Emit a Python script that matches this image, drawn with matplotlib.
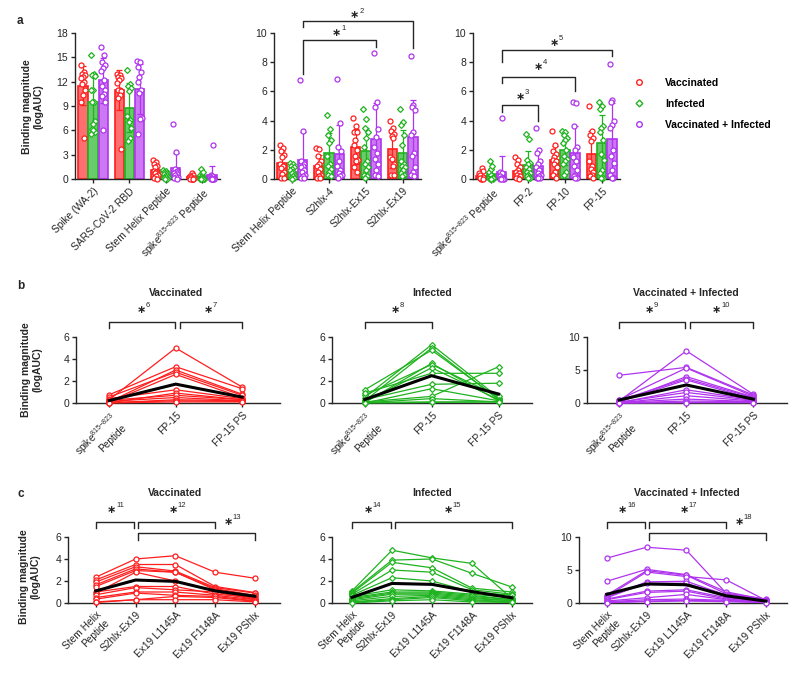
import numpy as np
import matplotlib
matplotlib.use('Agg')
import matplotlib.pyplot as plt
from matplotlib.lines import Line2D
from matplotlib.transforms import blended_transform_factory

plt.rcParams['font.family'] = ['Liberation Sans', 'DejaVu Sans']
plt.rcParams['mathtext.fontset'] = 'custom'
plt.rcParams['mathtext.rm'] = 'Liberation Sans'

# ---- data (logAUC), one value per subject ----
groups = ['Vaccinated', 'Infected', 'Vaccinated + Infected']

# panel a, antigens only used there
spike_wa2 = [[14.1, 13.2, 13.0, 12.8, 12.6, 12.5, 11.9, 11.7, 11.0, 10.4, 9.5, 5.0],
             [15.3, 13.0, 12.8, 12.7, 11.0, 11.0, 9.5, 9.5, 7.2, 6.8, 6.2, 5.8, 6.0, 5.6],
             [16.3, 15.3, 14.4, 14.0, 13.7, 13.3, 12.2, 11.5, 11.0, 10.5, 10.2, 9.5, 6.1]]
rbd = [[13.0, 12.8, 12.6, 12.5, 12.2, 11.8, 11.0, 11.0, 10.8, 10.4, 10.0, 3.7],
       [13.4, 11.7, 11.5, 11.2, 10.8, 7.8, 7.3, 7.0, 6.3, 5.0, 4.7],
       [14.5, 14.4, 13.8, 13.2, 12.6, 12.0, 11.0, 10.6, 7.5, 7.4, 5.6]]
s2hlx_4 = [[2.1, 2.05, 1.6, 1.2, 1.0, 0.9, 0.7, 0.5, 0.3, 0.2, 0.1, 0.05],
           [4.4, 3.4, 3.0, 2.7, 2.5, 1.6, 1.0, 0.9, 0.7, 0.5, 0.3, 0.2],
           [6.85, 3.85, 2.2, 1.9, 1.2, 0.9, 0.6, 0.4, 0.3, 0.2, 0.1]]
s2hlx_ex15 = [[4.2, 3.6, 3.2, 3.2, 2.7, 2.3, 2.0, 1.6, 1.3, 1.2, 0.8, 0.5],
              [4.8, 4.1, 3.5, 3.2, 2.8, 2.2, 1.2, 1.0, 0.8, 0.6, 0.3, 0.2, 0.1],
              [8.6, 5.3, 4.9, 3.4, 2.9, 2.2, 1.8, 1.4, 1.0, 0.6, 0.3, 0.2]]
fp2 = [[1.5, 1.3, 1.0, 0.8, 0.6, 0.5, 0.4, 0.3, 0.2, 0.1, 0.05, 0.0],
       [3.1, 2.75, 1.3, 1.1, 1.0, 0.8, 0.7, 0.5, 0.4, 0.3, 0.2, 0.1, 0.05],
       [3.5, 2.0, 1.8, 1.2, 1.0, 0.8, 0.6, 0.4, 0.3, 0.2, 0.1, 0.05, 0.05]]
fp10 = [[3.3, 2.3, 1.9, 1.7, 1.5, 1.3, 1.2, 1.0, 0.8, 0.5, 0.3, 0.1],
        [3.3, 3.2, 3.0, 2.8, 2.7, 2.5, 2.0, 1.6, 1.4, 1.2, 1.0, 0.5, 0.3],
        [5.3, 5.2, 3.6, 2.2, 2.0, 1.5, 1.2, 0.9, 0.6, 0.3, 0.2, 0.1, 0.05]]

# panel b, paired: spike 815-823 peptide, FP-15, FP-15 PS
pep815 = [[0.3, 0.75, 0.1, 0.55, 0.05, 0.4, 0.02, 0.25, 0.15, 0.0, 0.05, 0.01],
          [0.5, 0.2, 1.2, 0.05, 0.7, 0.1, 0.9, 0.3, 0.0, 0.1, 0.02, 0.05, 0.0],
          [0.3, 4.2, 0.5, 0.1, 0.4, 0.2, 0.05, 0.1, 0.0, 0.05, 0.0, 0.0, 0.02]]
fp15 = [[5.0, 3.3, 3.0, 2.8, 2.6, 1.2, 0.9, 0.7, 0.5, 0.3, 0.2, 0.1],
        [5.3, 5.0, 4.8, 3.6, 3.5, 3.2, 2.7, 1.7, 1.3, 0.6, 0.4, 0.1, 0.05],
        [7.9, 5.4, 5.3, 4.0, 3.7, 3.5, 2.0, 1.6, 1.1, 0.6, 0.3, 0.1, 0.05]]
fp15_ps = [[1.45, 1.3, 0.8, 0.7, 0.5, 0.4, 0.3, 0.3, 0.2, 0.2, 0.15, 0.1],
           [0.5, 0.3, 0.4, 0.2, 0.6, 0.3, 2.7, 1.8, 0.2, 3.3, 0.1, 0.1, 0.1],
           [1.3, 1.2, 1.0, 0.9, 0.8, 0.6, 0.5, 0.4, 0.3, 0.2, 0.2, 0.1, 0.05]]

# panel c, paired: stem helix peptide, S2hlx-Ex19 and its mutants
stem_helix = [[2.35, 2.1, 1.9, 1.65, 1.5, 1.0, 0.9, 0.75, 0.5, 0.35, 0.1, 0.05],
              [1.1, 1.0, 0.9, 0.8, 0.7, 0.6, 0.5, 0.4, 0.3, 0.2, 0.1, 0.05, 0.0],
              [6.8, 3.3, 1.2, 1.0, 0.9, 0.8, 0.6, 0.5, 0.3, 0.2, 0.1, 0.05]]
s2hlx_ex19 = [[4.0, 3.5, 3.3, 3.1, 2.95, 1.5, 2.8, 1.4, 1.0, 0.9, 0.3, 0.3],
              [4.8, 3.9, 3.7, 3.0, 2.3, 1.2, 1.0, 0.9, 0.8, 0.6, 0.4, 0.3, 0.2],
              [8.45, 5.1, 4.9, 4.7, 3.2, 3.0, 1.8, 1.6, 0.8, 0.5, 0.3, 0.2]]
ex19_l1145a = [[4.3, 3.5, 2.9, 2.8, 2.8, 1.5, 2.0, 1.2, 1.0, 0.7, 0.6, 0.3],
               [4.1, 4.0, 3.2, 2.8, 2.0, 1.1, 1.0, 0.9, 0.8, 0.7, 0.6, 0.5, 0.3],
               [8.0, 4.3, 4.2, 4.0, 3.3, 3.0, 2.0, 1.8, 1.3, 0.6, 0.4, 0.3]]
ex19_f1148a = [[2.8, 1.5, 1.4, 1.3, 1.2, 0.8, 1.1, 1.0, 0.7, 0.6, 0.5, 0.3],
               [3.6, 2.7, 1.35, 1.2, 1.0, 0.8, 0.7, 0.6, 0.5, 0.4, 0.3, 0.2, 0.1],
               [1.5, 1.7, 1.4, 3.5, 1.2, 1.0, 0.8, 0.6, 0.5, 0.4, 0.3, 0.2]]
ex19_pshlx = [[2.25, 0.95, 0.9, 0.7, 0.6, 0.5, 0.4, 0.3, 0.3, 0.2, 0.15, 0.1],
              [0.4, 1.45, 1.0, 0.8, 0.7, 0.5, 0.3, 0.3, 0.2, 0.2, 0.1, 0.1, 0.05],
              [0.6, 0.5, 0.45, 0.4, 0.35, 0.3, 0.25, 0.2, 0.15, 0.1, 0.1, 0.05]]

pep_lbl = r'spike$^{815\mathrm{-}823}$ Peptide'
a1_labels = ['Spike (WA-2)', 'SARS-CoV-2 RBD', 'Stem Helix Peptide', pep_lbl]
a2_labels = ['Stem Helix Peptide', 'S2hlx-4', 'S2hlx-Ex15', 'S2hlx-Ex19']
a3_labels = [pep_lbl, 'FP-2', 'FP-10', 'FP-15']
b_labels = [r'spike$^{815\mathrm{-}823}$' + '\nPeptide', 'FP-15', 'FP-15 PS']
c_labels = ['Stem Helix\nPeptide', 'S2hlx-Ex19', 'Ex19 L1145A', 'Ex19 F1148A', 'Ex19 PShlx']

colors = ['#FF1E1E', '#1FB31F', '#B034EE']
faces = ['#FF6F6F', '#6ACB6A', '#CB78F2']
markers = ['o', 'D', 'o']
msizes = [3.6, 3.0, 3.6]

W, H = 800, 687
fig = plt.figure(figsize=(8, 6.87), dpi=100)
DARK = '#262626'


def add_ax(x0, x1, ytop, ybot):
    ax = fig.add_axes([x0 / W, 1 - ybot / H, (x1 - x0) / W, (ybot - ytop) / H])
    for s in ['top', 'right']:
        ax.spines[s].set_visible(False)
    for s in ['left', 'bottom']:
        ax.spines[s].set_linewidth(1.0)
        ax.spines[s].set_color(DARK)
    ax.tick_params(length=3, width=1.0, labelsize=7.5, colors=DARK, pad=2)
    return ax


def bar_panel(ax, data, labels, ymax, step):
    offs = [-0.28, 0.0, 0.28]
    for gi, grp in enumerate(data):
        for k, vals in enumerate(grp):
            v = np.asarray(vals)
            x = gi + offs[k]
            m, sd = v.mean(), v.std(ddof=1)
            ax.bar(x, m, width=0.26, color=faces[k], edgecolor=colors[k], lw=1.2, zorder=2)
            ax.errorbar(x, m, yerr=sd, color=colors[k], capsize=2, lw=0.9, capthick=0.9, zorder=3)
            jit = (((np.arange(len(v)) * 0.618) % 1) - 0.5) * 0.13
            ax.plot(x + jit, v, ls='none', marker=markers[k], ms=msizes[k], mfc='white',
                    mec=colors[k], mew=0.9, zorder=4, clip_on=False)
    ax.set_xlim(-0.5, 3.5)
    ax.set_ylim(0, ymax)
    ax.set_yticks(np.arange(0, ymax + 0.1, step))
    ax.set_xticks(range(4))
    ax.set_xticklabels(labels, rotation=45, ha='right', rotation_mode='anchor', fontsize=7.3)


def line_panel(ax, series, k, labels, xlim, ymax, yticks):
    d = np.array(series)
    x = np.arange(d.shape[0])
    for j in range(d.shape[1]):
        ax.plot(x, d[:, j], color=colors[k], lw=0.9, marker=markers[k], ms=msizes[k],
                mfc='white', mec=colors[k], mew=0.9, zorder=3, clip_on=False)
    ax.plot(x, d.mean(axis=1), color='black', lw=2.2, zorder=5, clip_on=False)
    ax.set_xlim(*xlim)
    ax.set_ylim(0, ymax)
    ax.set_yticks(yticks)
    ax.set_xticks(x)
    ax.set_xticklabels(labels, rotation=45, ha='right', rotation_mode='anchor', fontsize=7.3)


def star(ax, x, y, num, tr):
    ax.text(x, y, '\u2217', transform=tr, ha='center', va='center', fontsize=8,
            fontweight='bold', family='DejaVu Sans', color=DARK)
    ax.annotate(str(num), xy=(x, y), xycoords=tr, xytext=(3.2, 3.2), textcoords='offset points',
                fontsize=5.5, ha='left', va='center', color=DARK)


def bracket_data(ax, x1, x2, top, yl, yr):
    ax.plot([x1, x1, x2, x2], [yl, top, top, yr], color=DARK, lw=1.0, clip_on=False, zorder=6)


def bracket_px(ax, x1, x2, ytop, drop):
    tr = blended_transform_factory(ax.transData, fig.transFigure)
    yt, yb = 1 - ytop / H, 1 - (ytop + drop) / H
    ax.plot([x1, x1, x2, x2], [yb, yt, yt, yb], transform=tr, color=DARK, lw=1.0, clip_on=False)
    return tr


def fig_tr(ax):
    return blended_transform_factory(ax.transData, fig.transFigure)


# ---- panel a ----
a1 = add_ax(75, 220, 33, 179)
bar_panel(a1, [spike_wa2, rbd, stem_helix, pep815], a1_labels, 18, 3)
a2 = add_ax(274, 421, 33, 179)
bar_panel(a2, [stem_helix, s2hlx_4, s2hlx_ex15, s2hlx_ex19], a2_labels, 10, 2)
a3 = add_ax(473, 620, 33, 179)
bar_panel(a3, [pep815, fp2, fp10, fp15], a3_labels, 10, 2)

bracket_data(a2, 0.28, 2.28, 9.5, 7.2, 9.05)
bracket_data(a2, 0.28, 3.28, 10.8, 10.4, 8.95)
star(a2, 1.21, 10.0, 1, a2.transData)
star(a2, 1.70, 11.2, 2, a2.transData)
bracket_data(a3, 0.28, 1.28, 5.1, 4.6, 4.0)
bracket_data(a3, 0.28, 2.28, 7.0, 6.6, 6.0)
bracket_data(a3, 0.28, 3.28, 8.84, 8.0, 8.4)
star(a3, 0.78, 5.6, 3, a3.transData)
star(a3, 1.29, 7.65, 4, a3.transData)
star(a3, 1.72, 9.34, 5, a3.transData)

handles = [Line2D([], [], ls='none', marker=markers[k], ms=msizes[k] + 0.4, mfc='white',
                  mec=colors[k], mew=1.0) for k in range(3)]
fig.legend(handles, groups, loc='upper left', bbox_to_anchor=(634 / W, 1 - 78 / H),
           frameon=False, prop=dict(weight='bold', size=7.5), handlelength=1.0,
           handletextpad=2.0, labelspacing=1.05, borderaxespad=0, borderpad=0)

# ---- panel b ----
b_axes = [add_ax(76, 280, 337, 403), add_ax(332, 532, 337, 403), add_ax(587, 787, 337, 403)]
b_xlims = [(-0.5, 2.57), (-0.49, 2.5), (-0.48, 2.5)]
b_ymax = [6, 6, 10]
b_ticks = [[0, 2, 4, 6], [0, 2, 4, 6], [0, 5, 10]]
for k, ax in enumerate(b_axes):
    line_panel(ax, [pep815[k], fp15[k], fp15_ps[k]], k, b_labels, b_xlims[k], b_ymax[k], b_ticks[k])
    ax.text(1, 1 - 293 / H, groups[k], transform=fig_tr(ax), ha='center', va='center',
            fontsize=7.5, fontweight='bold', color=DARK)

tr = bracket_px(b_axes[0], 0, 0.985, 322, 6)
bracket_px(b_axes[0], 1.06, 2, 322, 6)
star(b_axes[0], 0.48, 1 - 310 / H, 6, tr)
star(b_axes[0], 1.49, 1 - 310 / H, 7, tr)
tr = bracket_px(b_axes[1], 0, 1, 322, 6)
star(b_axes[1], 0.45, 1 - 310 / H, 8, tr)
tr = bracket_px(b_axes[2], 0, 0.985, 322, 6)
bracket_px(b_axes[2], 1.06, 2, 322, 6)
star(b_axes[2], 0.45, 1 - 310 / H, 9, tr)
star(b_axes[2], 1.45, 1 - 310 / H, 10, tr)

# ---- panel c ----
c_axes = [add_ax(68, 280, 537, 603), add_ax(332, 532, 537, 603), add_ax(579, 787, 537, 603)]
c_xlims = [(-0.7, 4.63), (-0.5, 4.5), (-0.7, 4.53)]
c_ymax = [6, 6, 10]
c_ticks = [[0, 2, 4, 6], [0, 2, 4, 6], [0, 5, 10]]
for k, ax in enumerate(c_axes):
    line_panel(ax, [stem_helix[k], s2hlx_ex19[k], ex19_l1145a[k], ex19_f1148a[k], ex19_pshlx[k]],
               k, c_labels, c_xlims[k], c_ymax[k], c_ticks[k])
    ax.text(2, 1 - 493 / H, groups[k], transform=fig_tr(ax), ha='center', va='center',
            fontsize=7.5, fontweight='bold', color=DARK)

for ax, nums in [(c_axes[0], (11, 12, 13)), (c_axes[2], (16, 17, 18))]:
    tr = bracket_px(ax, 0, 0.97, 522, 6)
    bracket_px(ax, 1.07, 3, 522, 6)
    bracket_px(ax, 1.07, 4, 533, 7)
    star(ax, 0.4, 1 - 510 / H, nums[0], tr)
    star(ax, 1.94, 1 - 510 / H, nums[1], tr)
    star(ax, 3.32, 1 - 522 / H, nums[2], tr)
tr = bracket_px(c_axes[1], 0, 0.97, 522, 6)
bracket_px(c_axes[1], 1.07, 4, 522, 6)
star(c_axes[1], 0.4, 1 - 510 / H, 14, tr)
star(c_axes[1], 2.4, 1 - 510 / H, 15, tr)

# y labels and panel letters
for yc, xc in [(107, 33), (370, 32), (577, 30)]:
    fig.text(xc / W, 1 - yc / H, 'Binding magnitude\n(logAUC)', rotation=90, ha='center',
             va='center', fontsize=7.5, fontweight='bold', color=DARK, multialignment='center')
for lbl, y in [('a', 21), ('b', 286), ('c', 494)]:
    fig.text(17 / W, 1 - y / H, lbl, fontsize=8.5, fontweight='bold', va='center', color=DARK)

fig.savefig('out.png', dpi=100)
